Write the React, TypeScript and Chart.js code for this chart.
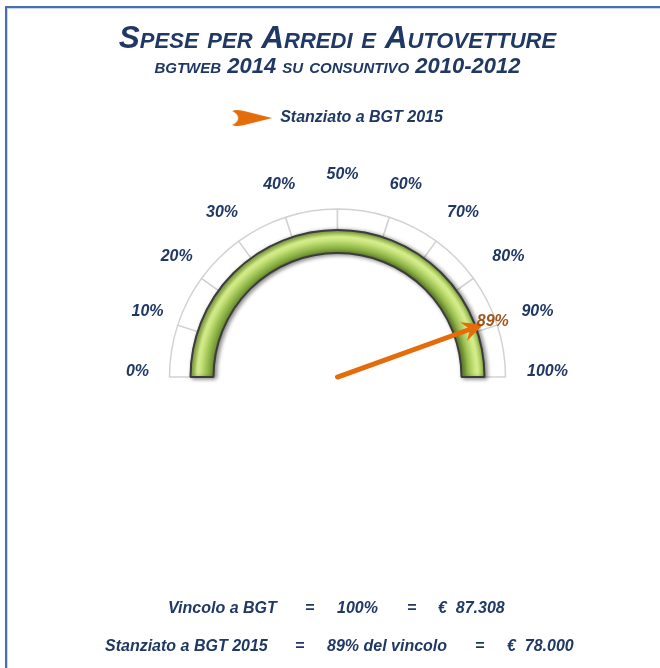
import React, { useEffect, useRef } from 'react';
import { Chart, registerables } from 'chart.js';

Chart.register(...registerables);

const FONT = "Arial, 'Liberation Sans', sans-serif";
const NAVY = '#1F3864';
const ORANGE = '#E46C0A';

const TITLE = 'Spese per Arredi e Autovetture';
const SUBTITLE = 'bgtweb 2014 su consuntivo 2010-2012';
const LEGEND_LABEL = 'Stanziato a BGT 2015';
const SCALE_SEGMENTS = [10, 10, 10, 10, 10, 10, 10, 10, 10, 10];
const SCALE_TICKS = ['0%', '10%', '20%', '30%', '40%', '50%', '60%', '70%', '80%', '90%', '100%'];
const BAND_VALUES = [100];
const SCALE_MAX = 100;
const NEEDLE_VALUE = 89;
const NEEDLE_LABEL = '89%';
const FOOTER_LINE_1 = ['Vincolo a BGT', '=', '100%', '=', '€  87.308'];
const FOOTER_LINE_2 = ['Stanziato a BGT 2015', '=', '89% del vincolo', '=', '€  78.000'];

function makeArrowIcon(): HTMLCanvasElement {
  const c = document.createElement('canvas');
  c.width = 42;
  c.height = 18;
  const g = c.getContext('2d')!;
  g.fillStyle = ORANGE;
  g.beginPath();
  g.moveTo(41, 9);
  g.lineTo(13, 2);
  g.quadraticCurveTo(4, 0, 1, 2);
  g.quadraticCurveTo(7, 5, 7, 9);
  g.quadraticCurveTo(7, 13, 1, 16);
  g.quadraticCurveTo(4, 18, 13, 16);
  g.closePath();
  g.fill();
  return c;
}

const gaugePlugin = {
  id: 'gaugeDecor',
  beforeDatasetDraw(chart: any, args: any) {
    if (args.index === 1) {
      const ctx = chart.ctx;
      ctx.save();
      ctx.shadowColor = 'rgba(0,0,0,0.45)';
      ctx.shadowBlur = 4;
      ctx.shadowOffsetX = 2;
      ctx.shadowOffsetY = 1;
    }
  },
  afterDatasetDraw(chart: any, args: any) {
    if (args.index === 1) chart.ctx.restore();
  },
  afterDatasetsDraw(chart: any) {
    const ctx = chart.ctx;
    const meta = chart.getDatasetMeta(0);
    const first = meta.data[0] as any;
    if (!first || first.x === undefined) return;
    const cx = first.x;
    const cy = first.y;
    const start = first.startAngle;
    const span = Math.PI;
    const angleOf = (v: number) => start + (v / SCALE_MAX) * span;

    // tick labels
    ctx.save();
    ctx.font = `italic bold 16px ${FONT}`;
    ctx.fillStyle = NAVY;
    ctx.textAlign = 'center';
    ctx.textBaseline = 'middle';
    SCALE_TICKS.forEach((t, i) => {
      const a = angleOf((i / (SCALE_TICKS.length - 1)) * SCALE_MAX);
      ctx.fillText(t, cx + 5 + 205 * Math.cos(a), cy - 5 + 197 * Math.sin(a));
    });
    ctx.restore();

    // needle
    const a = angleOf(NEEDLE_VALUE);
    const L = 155;
    ctx.save();
    ctx.translate(cx, cy);
    ctx.rotate(a);
    ctx.strokeStyle = ORANGE;
    ctx.fillStyle = ORANGE;
    ctx.lineWidth = 5;
    ctx.lineCap = 'round';
    ctx.beginPath();
    ctx.moveTo(0, 0);
    ctx.lineTo(L - 14, 0);
    ctx.stroke();
    ctx.beginPath();
    ctx.moveTo(L, 0);
    ctx.lineTo(L - 21, -10);
    ctx.lineTo(L - 14, 0);
    ctx.lineTo(L - 21, 10);
    ctx.closePath();
    ctx.fill();
    ctx.restore();

    // needle value label
    ctx.save();
    ctx.font = `italic bold 16px ${FONT}`;
    ctx.fillStyle = 'rgba(150,72,10,0.92)';
    ctx.textAlign = 'center';
    ctx.textBaseline = 'middle';
    ctx.fillText(NEEDLE_LABEL, cx + 165 * Math.cos(a) + 0, cy + 165 * Math.sin(a) + 0);
    ctx.restore();
  },
  afterDraw(chart: any) {
    const ctx = chart.ctx;
    ctx.save();
    ctx.font = `italic bold 16px ${FONT}`;
    ctx.fillStyle = NAVY;
    ctx.textAlign = 'left';
    ctx.textBaseline = 'middle';
    const x1 = [168, 305, 337, 407, 438];
    const x2 = [105, 295, 327, 475, 507];
    FOOTER_LINE_1.forEach((t, i) => ctx.fillText(t, x1[i], 609));
    FOOTER_LINE_2.forEach((t, i) => ctx.fillText(t, x2[i], 647));
    ctx.restore();
  },
};

export default function App() {
  const ref = useRef<HTMLCanvasElement>(null);

  useEffect(() => {
    const canvas = ref.current;
    if (!canvas) return;
    const icon = makeArrowIcon();
    const greenFill = (c: any) => {
      const el = c.element as any;
      if (!el || !el.outerRadius) return '#a6c75e';
      const g = c.chart.ctx.createRadialGradient(el.x, el.y, el.innerRadius, el.x, el.y, el.outerRadius);
      g.addColorStop(0, '#6b8c2e');
      g.addColorStop(0.25, '#90b648');
      g.addColorStop(0.55, '#c6e27a');
      g.addColorStop(0.7, '#d6ee8c');
      g.addColorStop(0.86, '#b0d062');
      g.addColorStop(1, '#86a843');
      return g;
    };
    const chart = new Chart(canvas, {
      type: 'doughnut',
      data: {
        labels: SCALE_TICKS.slice(1),
        datasets: [
          {
            data: SCALE_SEGMENTS,
            backgroundColor: '#ffffff',
            borderColor: '#d2d2d2',
            borderWidth: 1.5,
            weight: 21,
            order: 1,
          } as any,
          {
            data: BAND_VALUES,
            backgroundColor: greenFill,
            borderColor: '#3c3c3c',
            borderWidth: 2,
            weight: 23,
            order: 0,
          } as any,
        ],
      },
      plugins: [gaugePlugin],
      options: {
        responsive: false,
        animation: false,
        events: [],
        rotation: -90,
        circumference: 180,
        radius: 168,
        cutout: `${(124 / 168) * 100}%`,
        layout: { padding: { left: 15, right: 0, top: 0, bottom: 218 } },
        plugins: {
          tooltip: { enabled: false },
          title: {
            display: true,
            text: TITLE,
            color: NAVY,
            font: { family: FONT, size: 31.5, style: 'italic', weight: 'small-caps bold' as any, lineHeight: 1.1 },
            padding: { top: 21.7, bottom: 0 },
          },
          subtitle: {
            display: true,
            text: SUBTITLE,
            color: NAVY,
            font: { family: FONT, size: 22, style: 'italic', weight: 'small-caps bold' as any, lineHeight: 1.0 },
            padding: { top: 0, bottom: 0 },
          },
          legend: {
            display: true,
            position: 'top',
            onClick: () => {},
            labels: {
              usePointStyle: true,
              pointStyleWidth: 40,
              padding: 31.7,
              color: NAVY,
              font: { family: FONT, size: 16, style: 'italic', weight: 'bold' },
              generateLabels: () => [
                {
                  text: LEGEND_LABEL,
                  pointStyle: icon as any,
                  fillStyle: 'transparent',
                  strokeStyle: 'transparent',
                  lineWidth: 0,
                  hidden: false,
                  fontColor: NAVY,
                  datasetIndex: 0,
                } as any,
              ],
            },
          },
        },
      } as any,
    });
    chart.update();
    return () => chart.destroy();
  }, []);

  return (
    <div style={{ position: 'fixed', left: 0, top: 0, width: 660, height: 668, background: '#fff', overflow: 'hidden' }}>
      <div
        style={{
          position: 'absolute',
          left: 5,
          top: 6,
          width: 720,
          height: 720,
          borderTop: '2px solid #4a6ea8',
          borderLeft: '2px solid #4a6ea8',
          boxShadow: 'inset 1px 1px 0 #c7d4ea',
        }}
      />
      <canvas ref={ref} width={660} height={668} style={{ position: 'absolute', left: 0, top: 0 }} />
    </div>
  );
}
